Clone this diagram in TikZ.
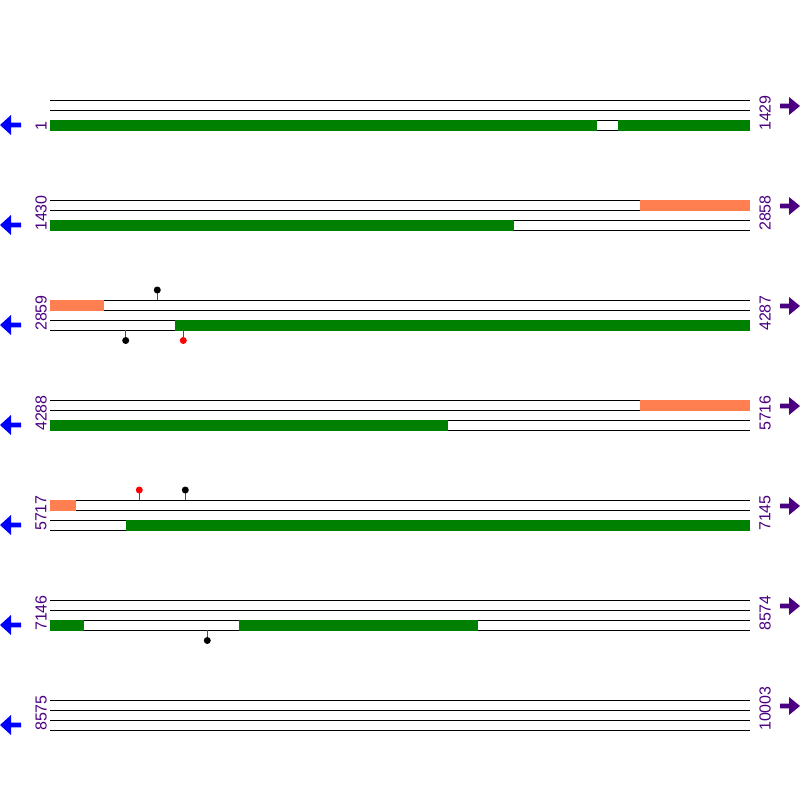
\documentclass[tikz,border=0pt]{standalone}
\usepackage{fontspec}
\setmainfont{Liberation Sans}
\definecolor{cdsgreen}{HTML}{008000}
\definecolor{utrcoral}{HTML}{FF7F50}
\definecolor{posviolet}{HTML}{4B0082}
\tikzset{
  track/.style={line width=1pt,black},
  cds/.style={fill=cdsgreen},
  utr/.style={fill=utrcoral},
  stem/.style={red,line width=1pt},
  poslabel/.style={rotate=90,anchor=west,inner sep=0pt,text=posviolet,font=\fontsize{16}{16}\selectfont},
}
\begin{document}
\begin{tikzpicture}[x=1pt,y=-1pt,line join=round]
	\useasboundingbox (0,0) rectangle (800,800);
	% rows of tracks, position labels and strand arrows
	\foreach \r/\rowfirst/\rowlast in {1/1/1429,2/1430/2858,3/2859/4287,4/4288/5716,5/5717/7145,6/7146/8574,7/8575/10003}{
		\pgfmathsetmacro\yy{100*\r}
		\foreach \k in {0,10,20,30}
			\draw[track] (50,\yy+\k) -- (750,\yy+\k);
		\node[poslabel] (first\r) at (41,\yy+31) {\rowfirst};
		\node[poslabel] (last\r) at (765,\yy+31) {\rowlast};
		\fill[blue] (0,\yy+25) -- (11,\yy+15) -- (11,\yy+22.7) -- (21,\yy+22.7) -- (21,\yy+27.3) -- (11,\yy+27.3) -- (11,\yy+35) -- cycle;
		\fill[posviolet] (800,\yy+6) -- (789,\yy-3) -- (789,\yy+3.6) -- (780,\yy+3.6) -- (780,\yy+8.4) -- (789,\yy+8.4) -- (789,\yy+15) -- cycle;
	}
	% coding regions
	\fill[cds] (50,119.5) rectangle (597,130.5);
	\fill[cds] (618,119.5) rectangle (750,130.5);
	\fill[cds] (50,219.5) rectangle (514,230.5);
	\fill[cds] (175,319.5) rectangle (750,330.5);
	\fill[cds] (50,419.5) rectangle (447.5,430.5);
	\fill[cds] (126,519.5) rectangle (750,530.5);
	\fill[cds] (50,619.5) rectangle (84,630.5);
	\fill[cds] (239,619.5) rectangle (478,630.5);
	% untranslated regions
	\fill[utr] (639.5,199.5) rectangle (750,210.5);
	\fill[utr] (50,299.5) rectangle (104,310.5);
	\fill[utr] (639.5,399.5) rectangle (750,410.5);
	\fill[utr] (50,499.5) rectangle (76,510.5);
	% sites
	\draw[stem] (157.3,300) -- (157.3,290);
	\fill[black] (157.3,290) circle (3.5);
	\draw[stem] (125.7,330) -- (125.7,340.5);
	\fill[black] (125.7,340.5) circle (3.5);
	\draw[stem] (183.3,330) -- (183.3,340.5);
	\fill[red] (183.3,340.5) circle (3.5);
	\draw[stem] (139.3,500) -- (139.3,490);
	\fill[red] (139.3,490) circle (3.5);
	\draw[stem] (185.3,500) -- (185.3,490);
	\fill[black] (185.3,490) circle (3.5);
	\draw[stem] (207.3,630) -- (207.3,640.5);
	\fill[black] (207.3,640.5) circle (3.5);
\end{tikzpicture}
\end{document}
